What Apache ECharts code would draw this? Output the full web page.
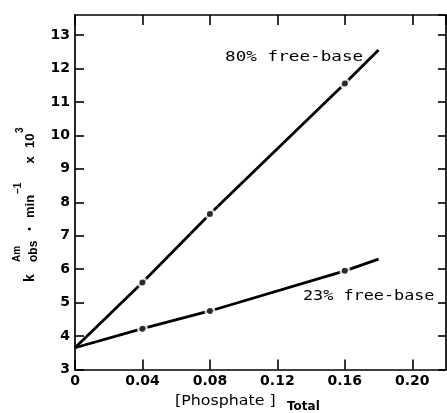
<!DOCTYPE html>
<html><head><meta charset="utf-8">
<script src="https://cdn.jsdelivr.net/npm/echarts@6.0.0/dist/echarts.min.js"></script>
<style>html,body{margin:0;padding:0;background:#fff}#c{width:447px;height:413px}</style>
</head><body><div id="c"></div>
<script>
// Data
const phosphate = [0, 0.04, 0.08, 0.16, 0.18];      // [Phosphate]Total
const k80 = [3.65, 5.6, 7.65, 11.55, 12.55];          // 80% free-base
const k23 = [3.65, 4.22, 4.75, 5.95, 6.3];            // 23% free-base
const measuredIdx = [1, 2, 3];                          // indices with plotted dots
const xTickLabels = ['0', '0.04', '0.08', '0.12', '0.16', '0.20'];
const yTickLabels = ['3','4','5','6','7','8','9','10','11','12','13'];
const labels = ['80% free-base', '23% free-base'];

const pairs = (xs, ys) => xs.map((x, i) => [x, ys[i]]);
const pts = (xs, ys) => measuredIdx.map(i => [xs[i], ys[i]]);

const chart = echarts.init(document.getElementById('c'), null, {renderer: 'canvas'});
const black = '#000';
const axLine = {show: true, onZero: false, lineStyle: {color: black, width: 1.7}};
const axTick = (len) => ({show: true, inside: true, length: len, lineStyle: {color: black, width: 1.6}});
const xFmt = v => {
  const i = Math.round(v / 0.04);
  if (Math.abs(v - i * 0.04) > 1e-9) return '';
  return xTickLabels[i] || '';
};
const yFmt = v => {
  if (Math.abs(v - Math.round(v)) > 1e-9) return '';
  return yTickLabels[Math.round(v) - 3] || '';
};
const lblFont = {color: black, fontSize: 14, fontWeight: 'bold', fontFamily: 'DejaVu Sans'};

chart.setOption({
  animation: false,
  backgroundColor: '#fff',
  grid: {left: 75, right: 1, top: 15, bottom: 43.5, containLabel: false, outerBoundsMode: 'none'},
  xAxis: [
    {type: 'value', position: 'bottom', min: 0, max: 0.22, interval: 0.04,
     axisLine: axLine, axisTick: axTick(10), splitLine: {show: false},
     axisLabel: Object.assign({formatter: xFmt, margin: 5, showMaxLabel: false}, lblFont)},
    {type: 'value', position: 'top', min: 0, max: 0.22, interval: 0.04,
     axisLine: axLine, axisTick: axTick(10), splitLine: {show: false}, axisLabel: {show: false}}
  ],
  yAxis: [
    {type: 'value', position: 'left', min: 3, max: 13.6, interval: 1,
     axisLine: axLine, axisTick: axTick(9), splitLine: {show: false},
     axisLabel: Object.assign({formatter: yFmt, margin: 5, showMaxLabel: false}, lblFont)},
    {type: 'value', position: 'right', min: 3, max: 13.6, interval: 1,
     axisLine: axLine, axisTick: axTick(8), splitLine: {show: false}, axisLabel: {show: false}}
  ],
  series: [
    {type: 'line', data: pairs(phosphate, k80), showSymbol: false, silent: true, z: 2,
     lineStyle: {color: black, width: 2.8}},
    {type: 'line', data: pairs(phosphate, k23), showSymbol: false, silent: true, z: 2,
     lineStyle: {color: black, width: 2.8}},
    {type: 'scatter', data: pts(phosphate, k80).concat(pts(phosphate, k23)), symbolSize: 11, silent: true, z: 3,
     itemStyle: {color: '#fff'}},
    {type: 'scatter', data: pts(phosphate, k80).concat(pts(phosphate, k23)), symbolSize: 6, silent: true, z: 4,
     itemStyle: {color: black}}
  ]
});

// Annotations anchored in data space
const a80 = chart.convertToPixel({gridIndex: 0}, [0.089, 12.34]);
const a23 = chart.convertToPixel({gridIndex: 0}, [0.1352, 5.2]);
const noteStyle = (t) => ({text: t, fill: black, font: '14px "DejaVu Sans Mono"', textAlign: 'left', textVerticalAlign: 'middle'});
const yt = (x, y, t, size, align) => ({type: 'text', x: x, y: y, silent: true,
  style: {text: t, fill: black, font: 'bold ' + size + 'px "Liberation Sans"', textAlign: align || 'left', textVerticalAlign: 'middle'}});

chart.setOption({
  graphic: [
    {type: 'text', x: a80[0], y: a80[1], scaleX: 1.26, silent: true, style: noteStyle(labels[0])},
    {type: 'text', x: a23[0], y: a23[1], scaleX: 1.2, silent: true, style: noteStyle(labels[1])},
    // x-axis title
    {type: 'text', x: 175, y: 401, scaleX: 1.13, silent: true,
     style: {text: '[Phosphate ]', fill: black, font: '14px "DejaVu Sans"', textAlign: 'left', textVerticalAlign: 'middle'}},
    {type: 'text', x: 287, y: 407, silent: true,
     style: {text: 'Total', fill: black, font: 'bold 12px "DejaVu Sans"', textAlign: 'left', textVerticalAlign: 'middle'}},
    // y-axis title (rotated)
    {type: 'group', x: 30, y: 282, rotation: Math.PI / 2, silent: true, children: [
      yt(0, 0, 'k', 14),
      yt(20, 4, 'obs', 12),
      yt(20, -13, 'Am', 10),
      yt(53, 0, '•', 10, 'center'),
      yt(64, 0, 'min', 13),
      yt(88, -12, '−1', 10),
      yt(122, 0, 'x', 13, 'center'),
      yt(134, 0, '10', 13),
      yt(149, -10, '3', 10)
    ]}
  ]
});
</script>
</body></html>
